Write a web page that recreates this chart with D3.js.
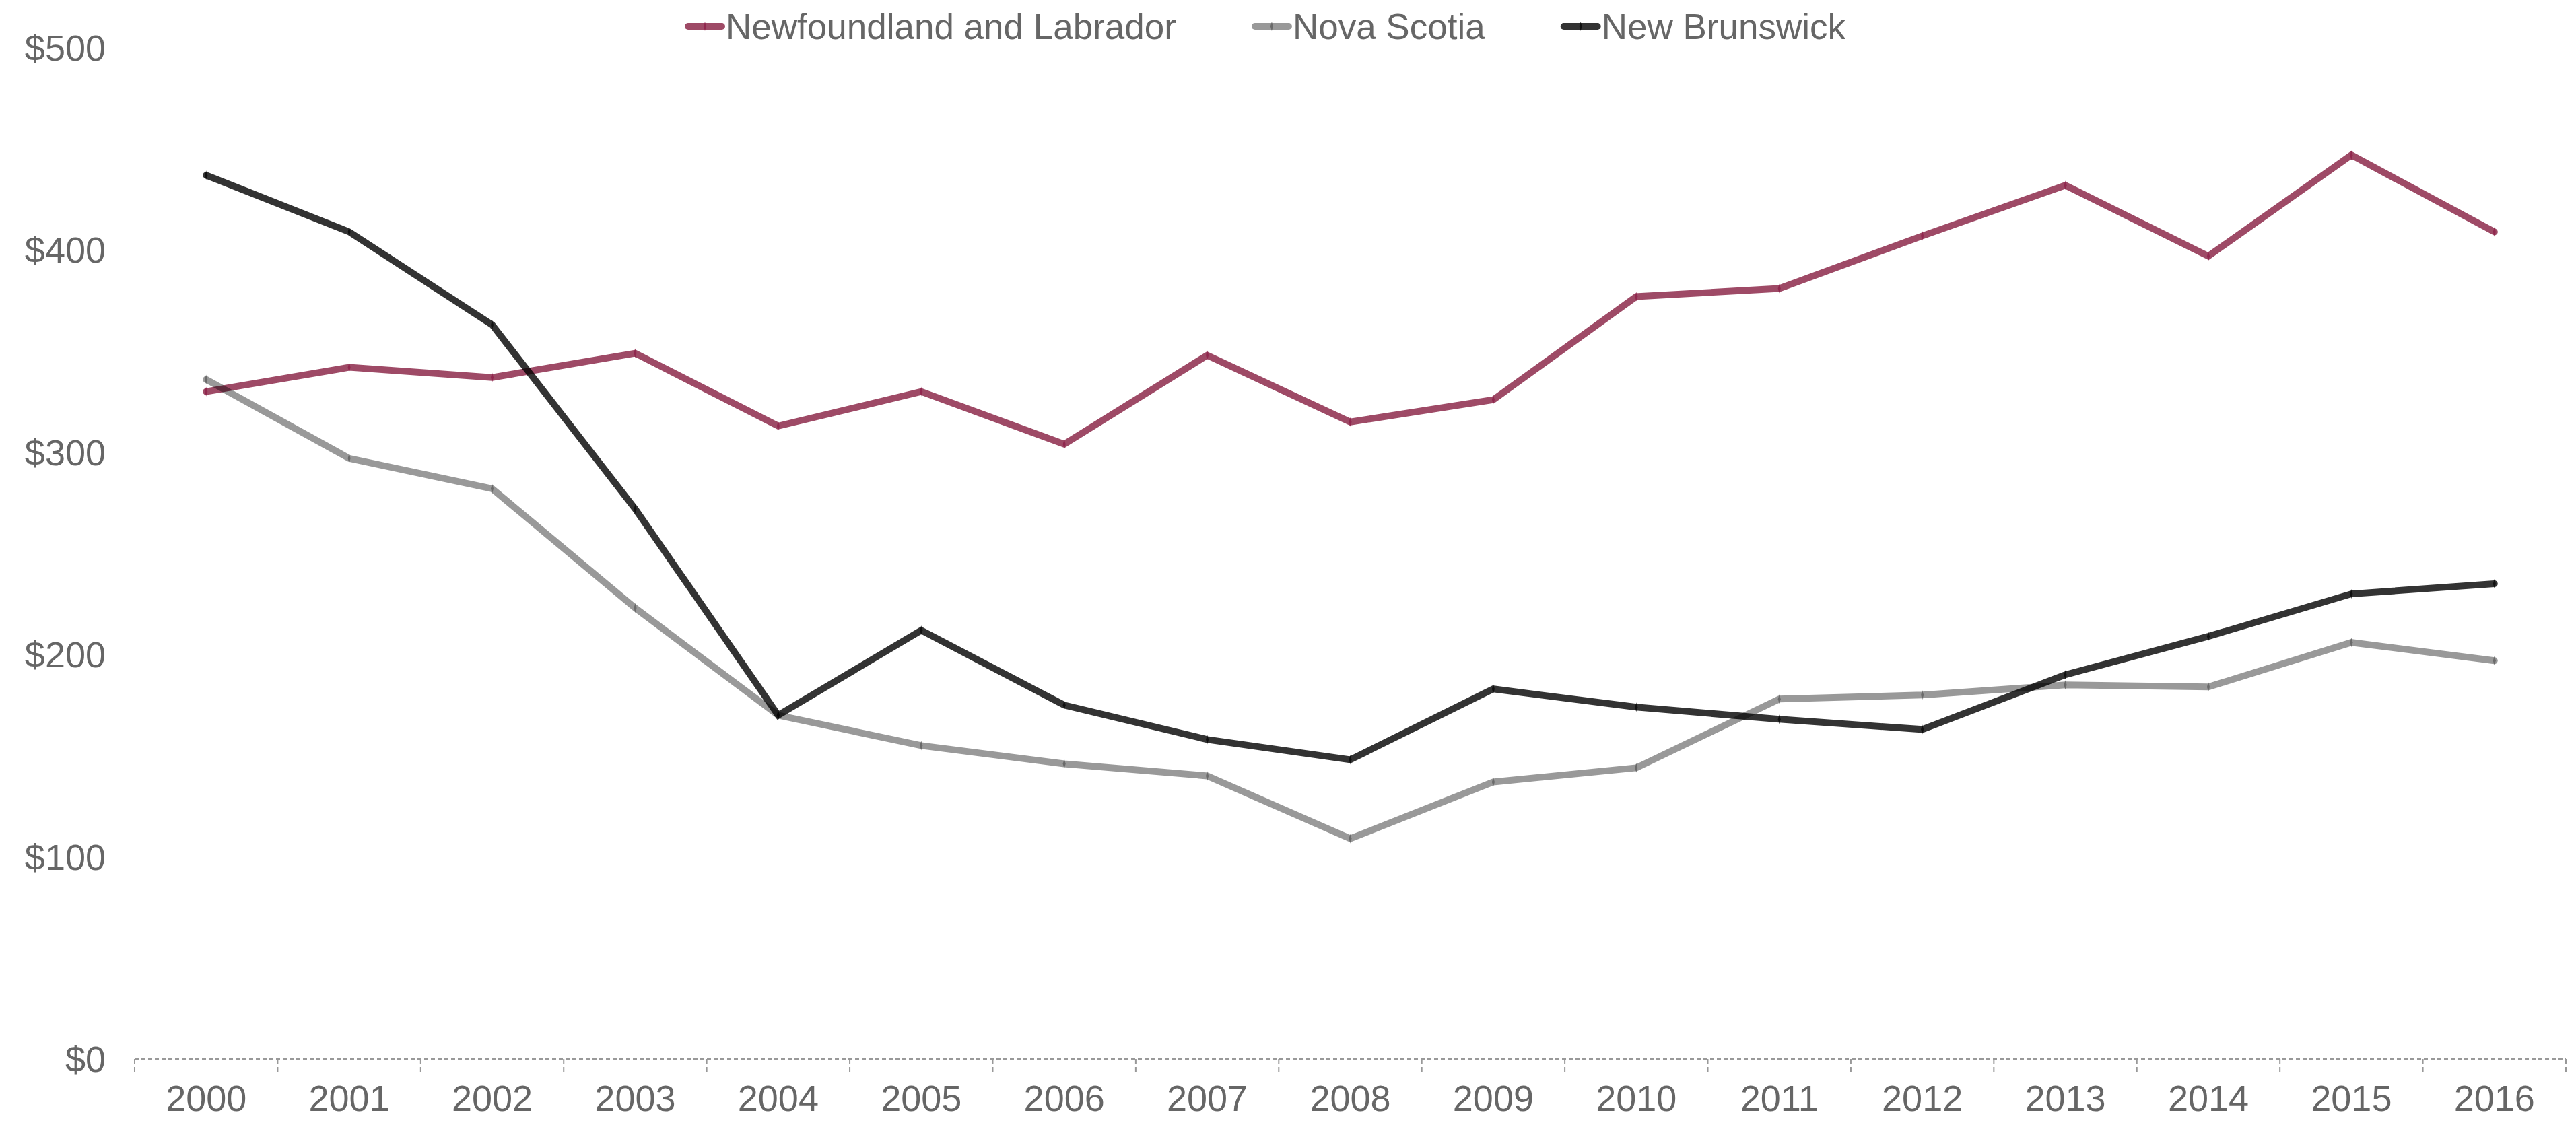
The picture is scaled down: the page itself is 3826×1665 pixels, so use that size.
<!DOCTYPE html>
<html>
<head>
<meta charset="utf-8">
<script src="https://cdn.jsdelivr.net/npm/d3@7"></script>
<style>
  body { margin: 0; background: #fff; }
  text { font-family: 'Liberation Sans', Arial, sans-serif; fill: #666; }
</style>
</head>
<body>
<div class="container"></div>
<script>
const years = ['2000', '2001', '2002', '2003', '2004', '2005', '2006', '2007', '2008',
  '2009', '2010', '2011', '2012', '2013', '2014', '2015', '2016'];
const newfoundland = [330, 342, 337, 349, 313, 330, 304, 348, 315, 326, 377, 381, 407, 432, 397, 447, 409];
const novaScotia = [336, 297, 282, 223, 170, 155, 146, 140, 109, 137, 144, 178, 180, 185, 184, 206, 197];
const newBrunswick = [437, 409, 363, 272, 170, 212, 175, 158, 148, 183, 174, 168, 163, 190, 209, 230, 235];
const yTicks = [0, 100, 200, 300, 400, 500];

const series = [
  { name: 'Newfoundland and Labrador', values: newfoundland, color: '#861d40', marker: '#8a1844' },
  { name: 'Nova Scotia', values: novaScotia, color: '#000', opacity: 0.4, marker: '#555' },
  { name: 'New Brunswick', values: newBrunswick, color: '#000', marker: '#000' }
];

const width = 3826;
const height = 1665;
const plot = { left: 200, right: 3811, top: 71, bottom: 1573 };

const svg = d3
  .select('.container')
  .append('svg')
  .attr('width', width)
  .attr('height', height);

const x = d3.scaleBand().domain(years).range([plot.left, plot.right]);
const y = d3.scaleLinear().domain([0, 500]).range([plot.bottom, plot.top]);

// y labels, no axis line
svg
  .append('g')
  .selectAll('text')
  .data(yTicks)
  .enter()
  .append('text')
  .attr('x', 157)
  .attr('y', d => y(d))
  .attr('dy', '0.35em')
  .attr('text-anchor', 'end')
  .style('font-size', '54px')
  .text(d => '$' + d);

// x axis
const xAxis = svg.append('g').attr('transform', `translate(0, ${plot.bottom})`);

xAxis
  .append('line')
  .attr('x1', plot.left)
  .attr('x2', plot.right)
  .attr('stroke', '#999')
  .attr('stroke-width', 2)
  .attr('stroke-dasharray', '6,4');

const bounds = years.map(d => x(d)).concat([plot.right]);
xAxis
  .selectAll('.tick-mark')
  .data(bounds)
  .enter()
  .append('line')
  .attr('class', 'tick-mark')
  .attr('x1', d => d)
  .attr('x2', d => d)
  .attr('y1', 0)
  .attr('y2', 20)
  .attr('stroke', '#999')
  .attr('stroke-width', 2)
  .attr('stroke-dasharray', '7,5');

xAxis
  .selectAll('.year')
  .data(years)
  .enter()
  .append('text')
  .attr('class', 'year')
  .attr('x', d => x(d) + x.bandwidth() / 2)
  .attr('y', 58)
  .attr('dy', '0.35em')
  .attr('text-anchor', 'middle')
  .style('font-size', '54px')
  .text(d => d);

// lines
const line = d3
  .line()
  .x((d, i) => x(years[i]) + x.bandwidth() / 2)
  .y(d => y(d));

const diamond = d3.symbol().type(d3.symbolDiamond).size(40);

series.forEach(s => {
  const g = svg.append('g').attr('class', 'series');
  g.append('path')
    .datum(s.values)
    .attr('d', line)
    .attr('fill', 'none')
    .attr('stroke', s.color)
    .attr('stroke-opacity', s.opacity || 0.8)
    .attr('stroke-width', 10)
    .attr('stroke-linejoin', 'miter')
    .attr('stroke-linecap', 'round');

  g.selectAll('path.pt')
    .data(s.values)
    .enter()
    .append('path')
    .attr('class', 'pt')
    .attr('d', diamond)
    .attr('transform', (d, i) => `translate(${x(years[i]) + x.bandwidth() / 2}, ${y(d)}) scale(0.6, 1.2)`)
    .attr('fill', s.marker)
    .attr('opacity', 0.7);
});

// legend
const legend = svg.append('g').attr('transform', 'translate(1017, 39)');
let lx = 0;
series.forEach(s => {
  const item = legend.append('g').attr('transform', `translate(${lx}, 0)`);
  item
    .append('line')
    .attr('x1', 5)
    .attr('x2', 55)
    .attr('stroke', s.color)
    .attr('stroke-opacity', s.opacity || 0.8)
    .attr('stroke-width', 10)
    .attr('stroke-linecap', 'round');
  item
    .append('path')
    .attr('d', diamond)
    .attr('transform', 'translate(30, 0) scale(0.6, 1.2)')
    .attr('fill', s.marker)
    .attr('opacity', 0.7);
  const label = item
    .append('text')
    .attr('x', 61)
    .attr('dy', '0.35em')
    .style('font-size', '53px')
    .text(s.name);
  lx += 61 + label.node().getComputedTextLength() + 112;
});
</script>
</body>
</html>
